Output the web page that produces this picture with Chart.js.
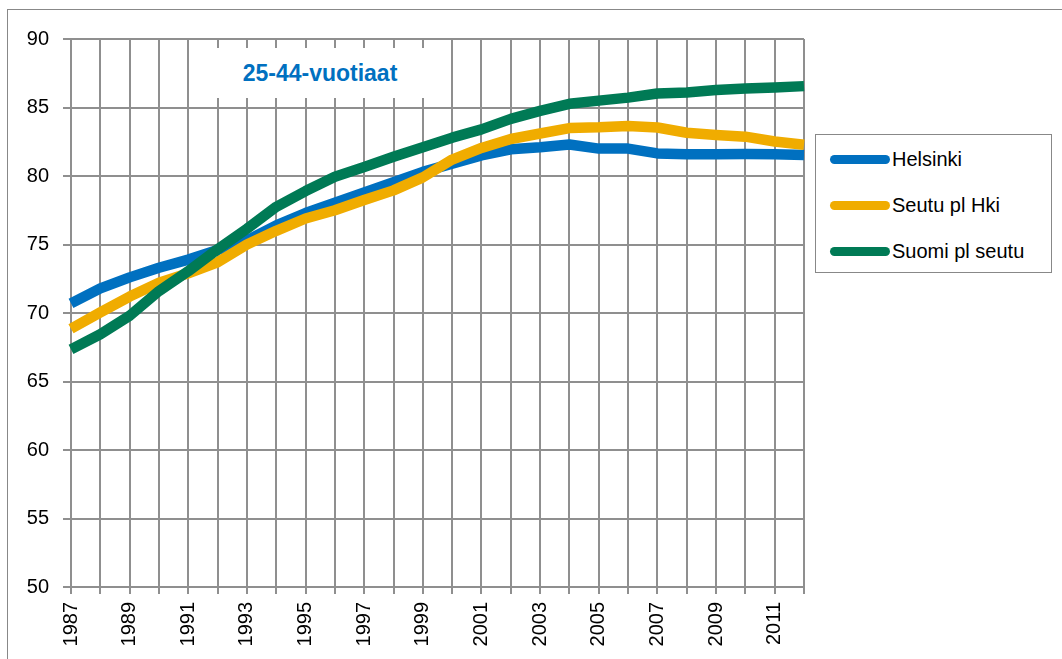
<!DOCTYPE html>
<html>
<head>
<meta charset="utf-8">
<script src="https://cdn.jsdelivr.net/npm/chart.js@4"></script>
<style>
  html, body { margin:0; padding:0; background:#fff; }
  #wrap { position:relative; width:1062px; height:659px; overflow:hidden; font-family:"Liberation Sans", Arial, sans-serif; }
  #frame { position:absolute; left:7px; top:9px; width:1100px; height:700px; border:1.5px solid #888; box-sizing:border-box; }
  canvas { position:absolute; left:0; top:0; }
  #title { position:absolute; left:216px; top:48px; width:208px; height:50px; background:#fff; color:#0070C0; font-weight:bold; font-size:23px; display:flex; align-items:center; justify-content:center; }
  #legend { position:absolute; left:815px; top:134px; width:237px; height:139px; border:1.5px solid #888; box-sizing:border-box; background:#fff; }
  .item { position:absolute; left:14px; height:24px; display:flex; align-items:center; font-size:20px; color:#000; }
  .sw { width:60px; height:9px; border-radius:5px; margin-right:2px; }
</style>
</head>
<body>
<div id="wrap">
  <div id="frame"></div>
  <canvas id="c" width="1062" height="659"></canvas>
  <div id="title">25-44-vuotiaat</div>
  <div id="legend"></div>
</div>
<script>
const years = ["1987","1988","1989","1990","1991","1992","1993","1994","1995","1996","1997","1998","1999","2000","2001","2002","2003","2004","2005","2006","2007","2008","2009","2010","2011","2012"];
const helsinki = [70.7,71.8,72.6,73.3,73.9,74.6,75.3,76.4,77.3,78.05,78.8,79.55,80.3,80.9,81.5,81.95,82.1,82.3,82.0,82.0,81.65,81.58,81.58,81.6,81.58,81.53];
const seutu    = [68.85,70.05,71.2,72.2,72.9,73.7,75.0,76.0,76.9,77.5,78.25,78.95,79.9,81.2,82.05,82.7,83.1,83.5,83.55,83.65,83.54,83.16,83.0,82.87,82.52,82.28];
const suomi    = [67.35,68.45,69.8,71.6,73.05,74.65,76.15,77.75,78.9,79.95,80.65,81.4,82.1,82.8,83.4,84.17,84.75,85.27,85.5,85.72,86.02,86.1,86.27,86.38,86.46,86.56];
const seriesNames = ["Helsinki","Seutu pl Hki","Suomi pl seutu"];
const seriesColors = ["#0070C0","#F0AC00","#007A55"];
const yTicks = [50,55,60,65,70,75,80,85,90];

const FONT = "'Liberation Sans', Arial, sans-serif";

new Chart(document.getElementById('c'), {
  type: 'line',
  data: {
    labels: years,
    datasets: [
      { label: seriesNames[0], data: helsinki, borderColor: seriesColors[0], order: 3 },
      { label: seriesNames[1], data: seutu, borderColor: seriesColors[1], order: 2 },
      { label: seriesNames[2], data: suomi, borderColor: seriesColors[2], order: 1 }
    ].map(d => Object.assign(d, { borderWidth: 10.5, pointRadius: 0, tension: 0, fill: false, borderJoinStyle: 'round', borderCapStyle: 'butt' }))
  },
  options: {
    responsive: false,
    animation: false,
    events: [],
    layout: { padding: { left: 0, top: 39, right: 258, bottom: 0 } },
    plugins: { legend: { display: false }, tooltip: { enabled: false }, title: { display: false } },
    scales: {
      x: {
        offset: false,
        grid: { color: '#8f8f8f', lineWidth: 2, tickLength: 7, drawTicks: true },
        border: { color: '#8f8f8f', width: 2 },
        ticks: {
          autoSkip: false, maxRotation: 90, minRotation: 90, padding: 8,
          color: '#000', font: { family: FONT, size: 20 },
          callback: function(v, i) { return i % 2 === 0 ? years[i] : ''; }
        },
        afterFit: function(s) { s.height = 72; }
      },
      y: {
        min: 50, max: 90,
        afterBuildTicks: function(s) { s.ticks = yTicks.map(v => ({ value: v })); },
        grid: { color: '#8f8f8f', lineWidth: 2, tickLength: 8 },
        border: { color: '#8f8f8f', width: 2 },
        ticks: { padding: 14, color: '#000', font: { family: FONT, size: 20 } },
        afterFit: function(s) { s.width = 71; }
      }
    }
  }
});

const lg = document.getElementById('legend');
const tops = [12, 58, 104];
seriesNames.forEach((n, i) => {
  const it = document.createElement('div');
  it.className = 'item';
  it.style.top = tops[i] + 'px';
  const sw = document.createElement('span');
  sw.className = 'sw';
  sw.style.background = seriesColors[i];
  it.appendChild(sw);
  it.appendChild(document.createTextNode(n));
  lg.appendChild(it);
});
</script>
</body>
</html>
